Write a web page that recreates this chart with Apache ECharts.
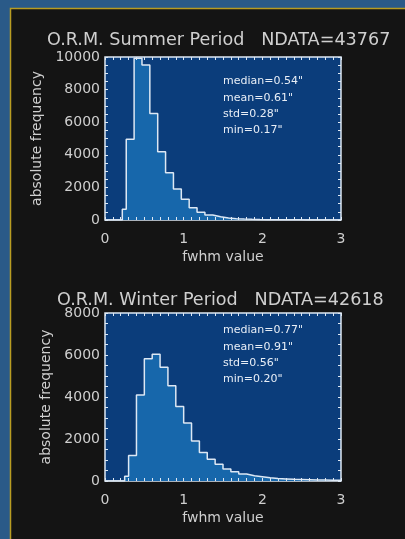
<!DOCTYPE html>
<html>
<head>
<meta charset="utf-8">
<script src="https://cdn.jsdelivr.net/npm/echarts@6/dist/echarts.min.js"></script>
<style>
html,body{margin:0;padding:0;background:#2a5a88;}
#c{width:405px;height:539px;}
</style>
</head>
<body>
<div id="c"></div>
<script>
// ---- data ----
var summerTitle = 'O.R.M. Summer Period   NDATA=43767';
var winterTitle = 'O.R.M. Winter Period   NDATA=42618';
var summerStats = ['median=0.54"', 'mean=0.61"', 'std=0.28"', 'min=0.17"'];
var winterStats = ['median=0.77"', 'mean=0.91"', 'std=0.56"', 'min=0.20"'];
var xTicks = [0, 1, 2, 3];
var summerYTicks = [0, 2000, 4000, 6000, 8000, 10000];
var winterYTicks = [0, 2000, 4000, 6000, 8000];
// bin left edges (fwhm) and counts
var summerEdges = [0, 0.22, 0.27, 0.37, 0.47, 0.57, 0.67, 0.77, 0.87, 0.97, 1.07, 1.17, 1.27, 1.37, 1.47, 1.57, 1.67, 1.77, 1.87, 1.97, 2.07, 2.17, 2.27, 2.37, 2.47, 2.57, 2.67, 2.77, 2.87, 3.0];
var summerCounts = [0, 655, 4950, 9920, 9510, 6540, 4190, 2900, 1900, 1270, 755, 470, 305, 200, 120, 80, 55, 40, 30, 22, 16, 12, 10, 8, 6, 5, 4, 3, 2, 2];
var winterEdges = [0, 0.25, 0.3, 0.4, 0.5, 0.6, 0.7, 0.8, 0.9, 1.0, 1.1, 1.2, 1.3, 1.4, 1.5, 1.6, 1.7, 1.8, 1.9, 2.0, 2.1, 2.2, 2.3, 2.4, 2.5, 2.6, 2.7, 2.8, 2.9, 3.0];
var winterCounts = [0, 230, 1210, 4100, 5820, 6030, 5420, 4540, 3550, 2760, 1910, 1360, 1035, 795, 570, 445, 335, 255, 205, 150, 120, 100, 80, 70, 60, 50, 45, 40, 35, 30];

// ---- styles ----
var FONT = 'DejaVu Sans';
var TXT = '#cfcfcf';
var BOX = '#dde8f4';
var PLOTBG = '#0b3d7b';
var FILL = '#1767ab';

function pairs(xs, ys){ return xs.map(function(x,i){ return [x, ys[i]]; }); }
function isTick(list, v){
  for (var i=0;i<list.length;i++){ if (Math.abs(list[i]-v) < 1e-6) return true; }
  return false;
}

function xAx(grid, pos, show){
  return {
    type:'value', gridIndex:grid, position:pos, min:0, max:3, interval:0.1, z:5,
    name: show ? 'fwhm value' : '', nameLocation:'middle', nameGap:30,
    nameTextStyle:{color:TXT, fontFamily:FONT, fontSize:14},
    axisLine:{show:false, onZero:false},
    axisTick:{show:true, inside:true, length:3, lineStyle:{color:BOX, width:1}},
    axisLabel:{show:show, color:TXT, fontFamily:FONT, fontSize:14, margin:12, showMinLabel:true, showMaxLabel:true,
      interval:0,
      formatter:function(v){ return isTick(xTicks, v) ? String(Math.round(v)) : ''; }},
    splitLine:{show:false}
  };
}
function yAx(grid, pos, show, max, ticks, gap){
  return {
    type:'value', gridIndex:grid, position:pos, min:0, max:max, interval:500, z:5,
    name: show ? 'absolute frequency' : '', nameLocation:'middle', nameGap:gap,
    nameTextStyle:{color:TXT, fontFamily:FONT, fontSize:14},
    axisLine:{show:false, onZero:false},
    axisTick:{show:true, inside:true, length:3, lineStyle:{color:BOX, width:1}},
    axisLabel:{show:show, color:TXT, fontFamily:FONT, fontSize:14, margin:5, interval:0,
      formatter:function(v){ return isTick(ticks, v) ? String(Math.round(v)) : ''; }},
    splitLine:{show:false}
  };
}
function hist(xi, yi, xs, ys){
  return {
    type:'line', xAxisIndex:xi, yAxisIndex:yi, step:'end', symbol:'none',
    data: pairs(xs, ys),
    lineStyle:{color:BOX, width:1.5},
    areaStyle:{color:FILL, opacity:1},
    silent:true, animation:false, z:3
  };
}
function statsText(lines, x, y0, dy){
  return lines.map(function(t,i){
    return {type:'text', left:x, top:y0 + i*dy, z:10,
      style:{text:t, fill:'#e8eef6', font:'11px "' + FONT + '"'}};
  });
}

var chart = echarts.init(document.getElementById('c'), null, {renderer:'canvas'});
chart.setOption({
  backgroundColor:'#2a5a88',
  animation:false,
  title:[
    {text:summerTitle, left:47, top:31, padding:0, textStyle:{color:TXT, fontFamily:FONT, fontSize:17.6, fontWeight:'normal'}},
    {text:winterTitle, left:57, top:291, padding:0, textStyle:{color:TXT, fontFamily:FONT, fontSize:17.6, fontWeight:'normal'}}
  ],
  grid:[
    {left:105, top:57, width:236, height:163, show:true, backgroundColor:PLOTBG, borderColor:BOX, borderWidth:1.5},
    {left:105, top:313, width:236, height:168, show:true, backgroundColor:PLOTBG, borderColor:BOX, borderWidth:1.5}
  ],
  xAxis:[ xAx(0,'bottom',true), xAx(0,'top',false), xAx(1,'bottom',true), xAx(1,'top',false) ],
  yAxis:[ yAx(0,'left',true,10000,summerYTicks,57), yAx(0,'right',false,10000,summerYTicks,0),
          yAx(1,'left',true,8000,winterYTicks,48), yAx(1,'right',false,8000,winterYTicks,0) ],
  series:[ hist(0,0,summerEdges,summerCounts), hist(2,2,winterEdges,winterCounts) ],
  graphic:[
    {type:'rect', shape:{x:10.5, y:8.5, width:420, height:560}, z:-10,
     style:{fill:'#141414', stroke:'#b89c22', lineWidth:1.5}}
  ].concat(statsText(summerStats, 223, 76, 16.3)).concat(statsText(winterStats, 223, 325, 16.2))
});
</script>
</body>
</html>
